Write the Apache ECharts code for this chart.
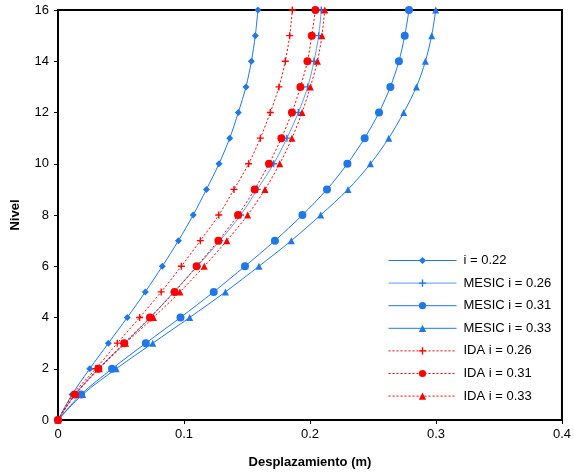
<!DOCTYPE html>
<html>
<head>
<meta charset="utf-8">
<script src="https://cdn.jsdelivr.net/npm/echarts@6/dist/echarts.min.js"></script>
<style>html,body{margin:0;padding:0;background:#fff}#c{width:574px;height:475px}</style>
</head>
<body>
<div id="c"></div>
<script>
var levels = [0,1,2,3,4,5,6,7,8,9,10,11,12,13,14,15,16];
var seriesNames = ['i = 0.22','MESIC i = 0.26','MESIC i = 0.31','MESIC i = 0.33','IDA i = 0.26','IDA i = 0.31','IDA i = 0.33'];
var i022      = [0,0.0112,0.0252,0.0400,0.0550,0.0693,0.0828,0.0956,0.1073,0.1178,0.1278,0.1363,0.1431,0.1492,0.1535,0.1566,0.1587];
var mesic026  = [0,0.0135,0.0322,0.0530,0.0733,0.0920,0.1106,0.1285,0.1450,0.1582,0.1712,0.1817,0.1908,0.1982,0.2032,0.2069,0.2090];
var mesic031  = [0,0.0183,0.0429,0.0697,0.0972,0.1236,0.1484,0.1722,0.1940,0.2135,0.2297,0.2434,0.2548,0.2638,0.2706,0.2752,0.2786];
var mesic033  = [0,0.0196,0.0462,0.0752,0.1045,0.1329,0.1595,0.1852,0.2085,0.2302,0.2480,0.2625,0.2744,0.2845,0.2916,0.2966,0.2998];
var ida026    = [0,0.0120,0.0300,0.0471,0.0648,0.0819,0.0979,0.1130,0.1276,0.1397,0.1513,0.1606,0.1685,0.1754,0.1804,0.1839,0.1860];
var ida031    = [0,0.0134,0.0320,0.0525,0.0730,0.0925,0.1100,0.1273,0.1429,0.1561,0.1675,0.1773,0.1857,0.1924,0.1980,0.2014,0.2043];
var ida033    = [0,0.0140,0.0328,0.0537,0.0758,0.0968,0.1161,0.1340,0.1505,0.1643,0.1760,0.1857,0.1937,0.2003,0.2059,0.2095,0.2117];
var xTicks = [0,0.1,0.2,0.3,0.4];
var yTicks = [0,2,4,6,8,10,12,14,16];

var BLUE = '#1f77e8', RED = '#ff0000';
var PLUS = 'path://M4,0H6V4H10V6H6V10H4V6H0V4H4Z';
function pts(arr){ return arr.map(function(v,i){ return [v, levels[i]]; }); }
function mk(name, arr, color, symbol, size, dotted, lineColor){
  return {
    name: name, type: 'line', data: pts(arr), smooth: 0.3,
    symbol: symbol, symbolSize: size, showSymbol: true,
    itemStyle: {color: color},
    lineStyle: {color: lineColor || color, width: 1, type: dotted ? [2,2] : 'solid'},
    emphasis: {disabled: true}, animation: false, z: dotted ? 3 : 2
  };
}
var chart = echarts.init(document.getElementById('c'), null, {renderer: 'canvas'});
var font = 'Liberation Sans, Arial, sans-serif';
chart.setOption({
  backgroundColor: '#fff',
  animation: false,
  grid: {left: 58, right: 12, top: 10, bottom: 55, show: true, borderColor: '#000', borderWidth: 2, backgroundColor: 'transparent'},
  xAxis: {
    type: 'value', min: xTicks[0], max: xTicks[xTicks.length-1], interval: 0.1,
    name: 'Desplazamiento (m)', nameLocation: 'middle', nameGap: 36,
    nameTextStyle: {fontFamily: font, fontWeight: 'bold', fontSize: 13, color: '#000'},
    axisLine: {show: true, onZero: false, lineStyle: {color: '#000', width: 2}},
    axisTick: {show: true, inside: false, length: 4, lineStyle: {color: '#000', width: 1}},
    axisLabel: {fontFamily: font, fontSize: 13, color: '#000', margin: 8, formatter: function(v){ return String(v); }},
    splitLine: {show: false}
  },
  yAxis: {
    type: 'value', min: yTicks[0], max: yTicks[yTicks.length-1], interval: 2,
    name: 'Nivel', nameLocation: 'middle', nameGap: 36,
    nameTextStyle: {fontFamily: font, fontWeight: 'bold', fontSize: 13, color: '#000'},
    axisLine: {show: true, onZero: false, lineStyle: {color: '#000', width: 2}},
    axisTick: {show: true, inside: false, length: 4, lineStyle: {color: '#000', width: 1}},
    axisLabel: {fontFamily: font, fontSize: 13, color: '#000', margin: 9},
    splitLine: {show: false}
  },
  legend: {
    orient: 'vertical', left: 383, top: 249, itemWidth: 68, itemHeight: 9, itemGap: 9.6,
    lineStyle: {width: 1},
    textStyle: {fontFamily: font, fontSize: 13, color: '#000', padding: [0,0,0,2]},
    data: seriesNames
  },
  series: [
    mk(seriesNames[0], i022, BLUE, 'diamond', 7, false),
    mk(seriesNames[1], mesic026, BLUE, PLUS, 7, false, '#5a9cf0'),
    mk(seriesNames[2], mesic031, BLUE, 'circle', 8, false),
    mk(seriesNames[3], mesic033, BLUE, 'triangle', 7, false),
    mk(seriesNames[4], ida026, RED, PLUS, 7, true),
    mk(seriesNames[5], ida031, RED, 'circle', 8, true),
    mk(seriesNames[6], ida033, RED, 'triangle', 7, true)
  ]
});
</script>
</body>
</html>
